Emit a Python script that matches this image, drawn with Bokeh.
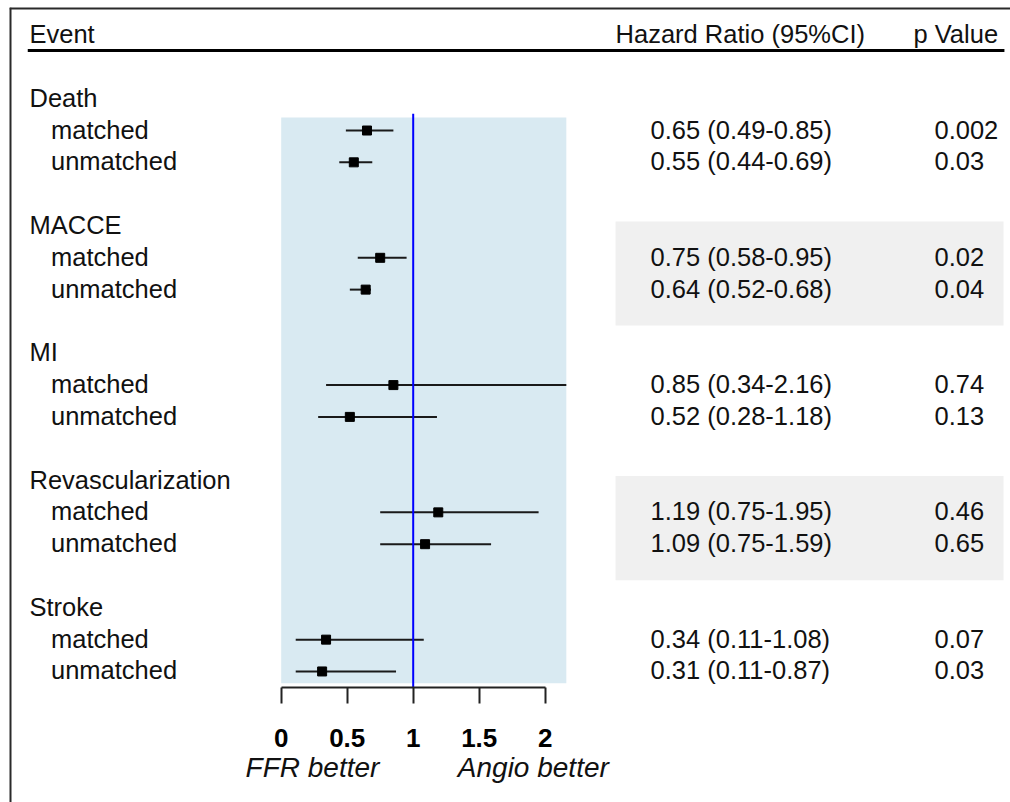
from bokeh.plotting import figure
from bokeh.models import Range1d, LinearAxis, FixedTicker, ColumnDataSource, Span
from bokeh.embed import file_html
from bokeh.resources import INLINE
from bokeh.core.properties import value

# ---------------- data ----------------
events = ["Death", "MACCE", "MI", "Revascularization", "Stroke"]
groups = ["matched", "unmatched"]
hr = [0.65, 0.55, 0.75, 0.64, 0.85, 0.52, 1.19, 1.09, 0.34, 0.31]
lo = [0.49, 0.44, 0.58, 0.52, 0.34, 0.28, 0.75, 0.75, 0.11, 0.11]
hi = [0.85, 0.69, 0.95, 0.68, 2.16, 1.18, 1.95, 1.59, 1.08, 0.87]
pvals = ["0.002", "0.03", "0.02", "0.04", "0.74", "0.13", "0.46", "0.65", "0.07", "0.03"]
shaded_events = ["MACCE", "Revascularization"]
ticks = [0, 0.5, 1, 1.5, 2]
direction_labels = ["FFR better", "Angio better"]
headers = ["Event", "Hazard Ratio (95%CI)", "p Value"]

# ---------------- layout constants ----------------
FONT = "Liberation Sans"
FS = "25.5px"
TXT = "#111111"
X_EVENT, X_SUB = -1.907, -1.744
X_HR, X_P = 2.798, 4.949
X_HR_HEAD, X_P_HEAD = 2.533, 4.79
BAND_L, BAND_R = 2.533, 5.472
LINE_L, LINE_R = -1.92, 5.479
HEAD_ROW, RULE_ROW = -2.0, -1.515
AXIS_ROW = 18.503
DIR_POS = [0.237, 1.91]

# rows: each event takes 4 rows (header, matched, unmatched, gap)
ev_rows = [4 * k for k in range(len(events))]
sub_rows, sub_names = [], []
for k in range(len(events)):
    for j, g in enumerate(groups):
        sub_rows.append(4 * k + 1 + j)
        sub_names.append(g)
hr_text = [f"{h:.2f} ({l:.2f}-{u:.2f})" for h, l, u in zip(hr, lo, hi)]

W, H = 1010, 802
p = figure(width=W, height=H, output_backend="svg", toolbar_location=None,
           x_range=Range1d(-2.0583, 5.525), y_range=Range1d(22.118, -2.866),
           x_axis_location=None, y_axis_location=None,
           min_border_left=9, min_border_right=0, min_border_top=7, min_border_bottom=0)
p.outline_line_color = None
p.grid.visible = False
p.background_fill_color = "white"
p.border_fill_color = "white"

# grey bands behind text columns
band_idx = [events.index(e) for e in shaded_events]
p.quad(left=[BAND_L] * len(band_idx), right=[BAND_R] * len(band_idx),
       top=[ev_rows[i] - 0.14 for i in band_idx],
       bottom=[ev_rows[i] + 3.13 for i in band_idx],
       fill_color="#f0f0f0", line_color=None)

# light blue plot region
p.quad(left=[min(ticks)], right=[max(hi)], top=[0.59], bottom=[sub_rows[-1] + 0.37],
       fill_color="#d9eaf2", line_color=None)

# CIs
src = ColumnDataSource(dict(hr=hr, lo=lo, hi=hi, y=sub_rows))
p.segment(x0="lo", y0="y", x1="hi", y1="y", source=src, line_color="#1a1a1a", line_width=2)

# reference line at HR = 1
p.segment(x0=[1], y0=[0.47], x1=[1], y1=[AXIS_ROW], line_color="#0000ff", line_width=2)

p.scatter(x="hr", y="y", source=src, marker="square", size=9,
          fill_color="black", line_color="black")

# header rule
p.segment(x0=[LINE_L], y0=[RULE_ROW], x1=[LINE_R], y1=[RULE_ROW], line_color="black", line_width=3)

def txt(xs, ys, texts):
    p.text(x=xs, y=ys, text=texts, text_font=value(FONT), text_font_size=value(FS),
           text_color=TXT, text_baseline="alphabetic", text_align="left", y_offset=-1)

txt([X_EVENT, X_HR_HEAD, X_P_HEAD], [HEAD_ROW] * 3, headers)
txt([X_EVENT] * len(events), ev_rows, events)
txt([X_SUB] * len(sub_rows), sub_rows, sub_names)
txt([X_HR] * len(sub_rows), sub_rows, hr_text)
txt([X_P] * len(sub_rows), sub_rows, pvals)

# frame lines (left and top)
p.add_layout(Span(location=p.x_range.start, dimension="height", line_color="#2a2a2a", line_width=4))
p.add_layout(Span(location=p.y_range.end, dimension="width", line_color="#2a2a2a", line_width=4))

# main x axis, fixed inside the frame
ax = LinearAxis(ticker=FixedTicker(ticks=ticks), fixed_location=AXIS_ROW,
                bounds=(min(ticks), max(ticks)))
ax.axis_line_color = "#222222"
ax.axis_line_width = 2
ax.major_tick_line_color = "#222222"
ax.major_tick_line_width = 2
ax.major_tick_out = 16
ax.major_tick_in = 0
ax.minor_tick_line_color = None
ax.major_label_text_font = FONT
ax.major_label_text_font_size = "26px"
ax.major_label_text_font_style = "bold"
ax.major_label_text_color = "black"
ax.major_label_standoff = 26
p.add_layout(ax, "below")

# direction labels as a second axis
ax2 = LinearAxis(ticker=FixedTicker(ticks=DIR_POS), fixed_location=AXIS_ROW,
                 major_label_overrides={DIR_POS[0]: direction_labels[0], DIR_POS[1]: direction_labels[1]})
ax2.axis_line_color = None
ax2.major_tick_line_color = None
ax2.minor_tick_line_color = None
ax2.major_tick_out = 0
ax2.major_tick_in = 0
ax2.major_label_standoff = 65
ax2.major_label_text_font = FONT
ax2.major_label_text_font_size = "28px"
ax2.major_label_text_font_style = "italic"
ax2.major_label_text_color = TXT
p.add_layout(ax2, "below")

open("out.html", "w").write(file_html(p, INLINE))
